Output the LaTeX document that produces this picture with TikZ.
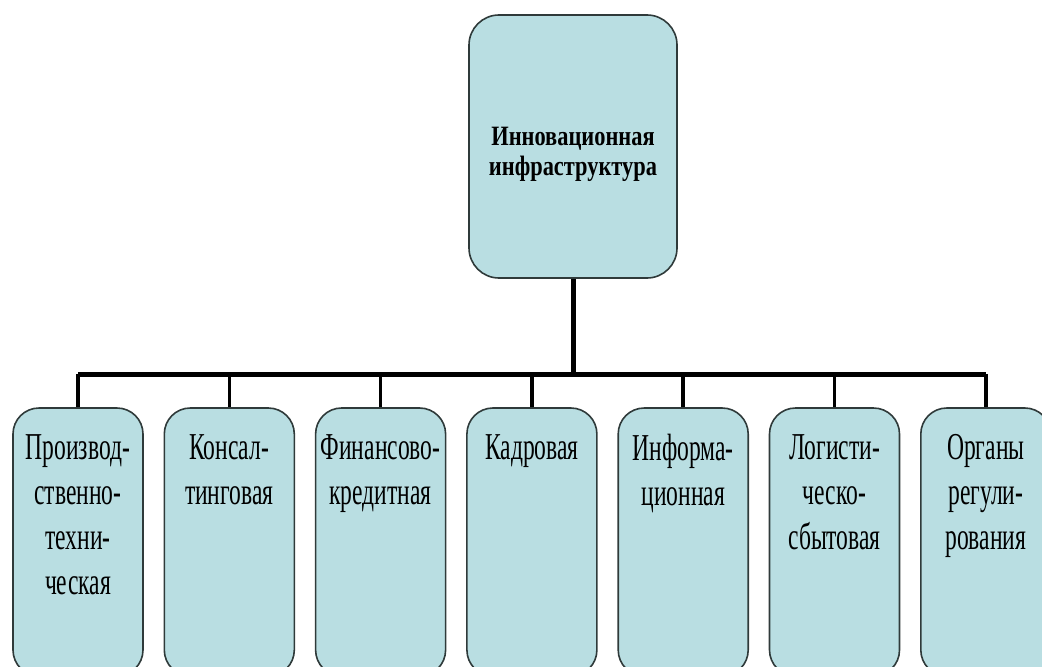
\documentclass[tikz,border=0pt]{standalone}
\usepackage{fontspec}
\setmainfont{Liberation Serif}
\newfontfamily\topfont[FakeStretch=0.8]{Liberation Serif}
\newfontfamily\lowfont[FakeStretch=0.62]{Liberation Serif}
\usetikzlibrary{positioning}
\definecolor{mfill}{HTML}{B9DEE2}
\definecolor{mdraw}{HTML}{2F3A3A}
\tikzstyle{topbox}=[rectangle, rounded corners=15pt, draw=mdraw, fill=mfill, line width=0.8pt, minimum width=104pt, minimum height=131.5pt, inner sep=0pt]
\tikzstyle{lowbox}=[rectangle, rounded corners=13pt, draw=mdraw, fill=mfill, line width=0.8pt, minimum width=65pt, minimum height=134pt, inner sep=0pt]
\tikzstyle{toptext}=[align=center, inner sep=0pt, font=\topfont\bfseries\fontsize{14}{15}\selectfont]
\tikzstyle{lowtext}=[align=center, anchor=north, inner sep=0pt, font=\lowfont\fontsize{19}{22.5}\selectfont]
\tikzstyle{bar}=[line width=2.5pt]
\tikzstyle{drop}=[line width=1.8pt]

\begin{document}
\begin{tikzpicture}[x=0.5pt, y=0.5pt]
    \useasboundingbox (0,0) rectangle (1042,666);
    \clip (0,0) rectangle (1042,666);

    \node (infra) [topbox] at (573,519.5) {};
    \node (infratext) [toptext] at ([yshift=-4pt]infra.center) {Инновационная\\инфраструктура};
    \coordinate (bus) at (573,292);
    \draw[bar] (infra.south) -- (bus);

    \foreach \i/\txt in {1/{Производ-\\ственно-\\техни-\\ческая}, 2/{Консал-\\тинговая},
      3/{Финансово-\\кредитная}, 4/{Кадровая}, 5/{Информа-\\ционная},
      6/{Логисти-\\ческо-\\сбытовая}, 7/{Органы\\регули-\\рования}} {
      \node (c\i) [lowbox] at ({78+151.3*(\i-1)}, 124) {};
      \node (t\i) [lowtext] at ([yshift=-13.5pt]c\i.north) {\txt};
      \draw[drop] (c\i.north) -- (c\i.north |- bus);
    }
    \draw[bar] (c1.north |- bus) -- (c7.north |- bus);
\end{tikzpicture}
\end{document}
